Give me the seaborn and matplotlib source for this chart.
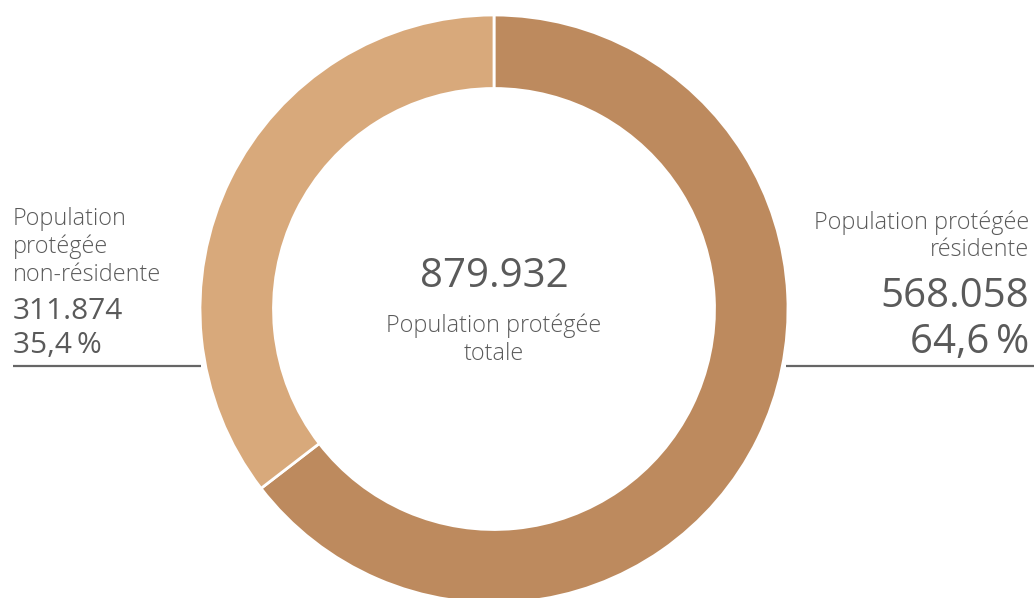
import matplotlib
matplotlib.use("Agg")
import matplotlib.pyplot as plt
import seaborn as sns

# Protected population split
categories = ["Population protégée résidente", "Population protégée non-résidente"]
values = [568058, 311874]
shares = ["64,6\u2009%", "35,4\u2009%"]
total_value = "879.932"
value_labels = ["568.058", "311.874"]

sns.set_theme(style="white")
plt.rcParams["font.family"] = ["Open Sans", "DejaVu Sans"]

colors = sns.color_palette(["#BD8A5E", "#D8A97B"])
text_color = "#5a5a5a"

W, H = 1034, 598
fig = plt.figure(figsize=(W / 100, H / 100), dpi=100)
ax = fig.add_axes([0, 0, 1, 1])
ax.set_xlim(0, W)
ax.set_ylim(0, H)
ax.set_aspect("equal")
ax.axis("off")


def py(y):
    """Convert a top-down pixel row into the axes' y coordinate."""
    return H - y


cx, cy, R = 494, 309, 294
ax.pie(values, colors=colors, startangle=90, counterclock=False,
       center=(cx, py(cy)), radius=R,
       wedgeprops=dict(width=R * 0.25, edgecolor="white", linewidth=2))
ax.set_xlim(0, W)
ax.set_ylim(0, H)

small, big, mid = 16.8, 29, 21.5
lbl = dict(va="baseline", fontsize=small, color=text_color, fontweight=300)
num = dict(va="baseline", color=text_color, fontweight="normal")

# centre total
ax.text(cx, py(287), total_value, ha="center", fontsize=big, **num)
ax.text(cx, py(332), "Population protégée", ha="center", **lbl)
ax.text(cx, py(360), "totale", ha="center", **lbl)

# right label: resident
rx = 1029
ax.text(rx, py(229), "Population protégée", ha="right", **lbl)
ax.text(rx, py(256), "résidente", ha="right", **lbl)
ax.text(rx, py(307), value_labels[0], ha="right", fontsize=big, **num)
ax.text(rx, py(353), shares[0], ha="right", fontsize=big, **num)
ax.plot([786, W], [py(366), py(366)], color="#666666", lw=1.6, solid_capstyle="butt")

# left label: non-resident
lx = 13
ax.text(lx, py(225), "Population", ha="left", **lbl)
ax.text(lx, py(253), "protégée", ha="left", **lbl)
ax.text(lx, py(281), "non-résidente", ha="left", **lbl)
ax.text(lx, py(319), value_labels[1], ha="left", fontsize=mid, **num)
ax.text(lx, py(353), shares[1], ha="left", fontsize=mid, **num)
ax.plot([13, 201], [py(366), py(366)], color="#666666", lw=1.6, solid_capstyle="butt")

fig.savefig("out.png", dpi=100, facecolor="white")
